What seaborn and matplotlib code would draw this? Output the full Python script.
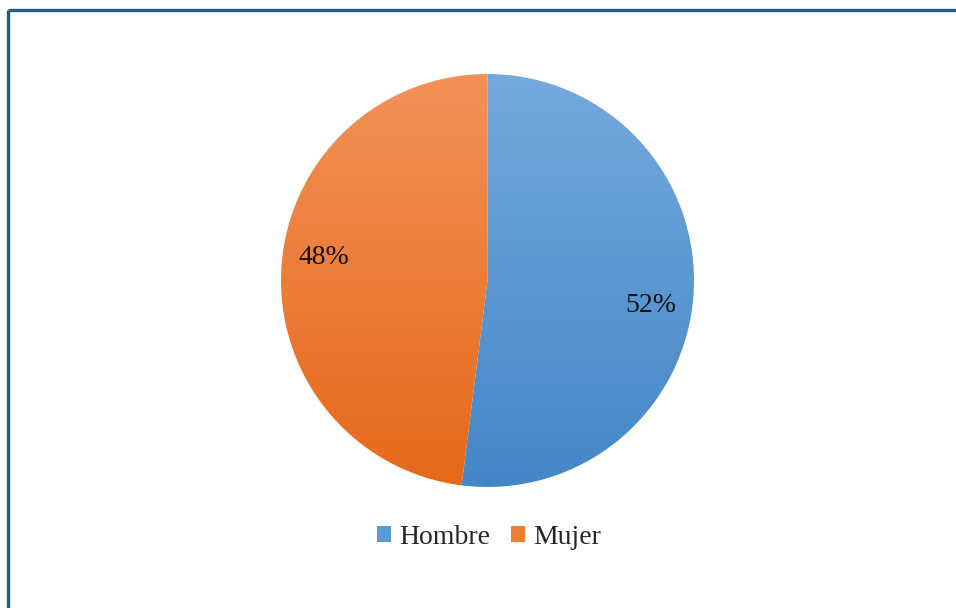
import numpy as np
import matplotlib
matplotlib.use("Agg")
import matplotlib.pyplot as plt
import seaborn as sns
from matplotlib.colors import LinearSegmentedColormap
from matplotlib.patches import Patch
from matplotlib.lines import Line2D

categories = ["Hombre", "Mujer"]
values = [52, 48]
top_colors = ["#74A9DD", "#F39158"]
bottom_colors = ["#4487C7", "#E5691A"]
legend_colors = ["#5B9BD5", "#ED7D31"]

sns.set_style("white")
plt.rcParams['font.family'] = ['Liberation Serif', 'DejaVu Serif']

W, H = 956, 608
fig = plt.figure(figsize=(W / 100, H / 100), dpi=100)
ax = fig.add_axes([281 / W, 121 / H, 413 / W, 413 / H])

wedges, texts, autotexts = ax.pie(
    values, startangle=90, counterclock=False, radius=1,
    autopct='%1.0f%%', pctdistance=0.8,
    colors=legend_colors,
    wedgeprops=dict(linewidth=1.2, edgecolor='white'),
    textprops=dict(fontsize=20, color='#111111'))

grad = np.linspace(0, 1, 256).reshape(-1, 1)
for w, c0, c1 in zip(wedges, top_colors, bottom_colors):
    cmap = LinearSegmentedColormap.from_list("g", [c0, c1])
    im = ax.imshow(grad, extent=[-1, 1, -1, 1], cmap=cmap, aspect='auto',
                   origin='upper', zorder=w.get_zorder() + 0.1)
    im.set_clip_path(w)

# Excel-style label placement: along the wedge, rotated a little from the mid-angle
label_angles = [-8.7, 172.0]
for t, a in zip(autotexts, label_angles):
    r = np.deg2rad(a)
    t.set_position((0.8 * np.cos(r), 0.8 * np.sin(r)))
    t.set_zorder(10)

ax.set_xlim(-1.0, 1.0)
ax.set_ylim(-1.0, 1.0)
ax.set_aspect('equal')
ax.axis('off')

handles = [Patch(facecolor=c, edgecolor='none', label=l) for c, l in zip(legend_colors, categories)]
fig.legend(handles=handles, loc='center', bbox_to_anchor=(489 / W, 1 - 537 / H),
           ncol=2, frameon=False, fontsize=20, handlelength=0.52, handleheight=0.52,
           handletextpad=0.28, columnspacing=0.75)

border = '#1F5F82'
fig.add_artist(Line2D([7.5 / W, 1], [1 - 10 / H, 1 - 10 / H], color=border, lw=2.4,
                      transform=fig.transFigure, solid_capstyle='butt'))
fig.add_artist(Line2D([7.5 / W, 7.5 / W], [0, 1 - 10 / H], color=border, lw=2.4,
                      transform=fig.transFigure, solid_capstyle='butt'))

fig.savefig("out.png", dpi=100, facecolor='white')
